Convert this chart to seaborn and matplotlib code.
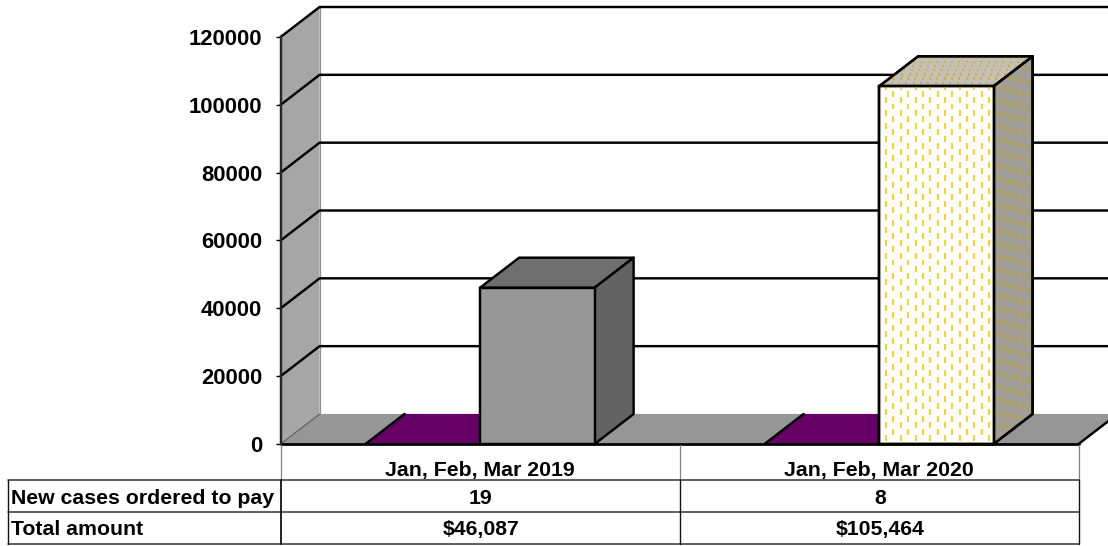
import numpy as np
import pandas as pd
import matplotlib
matplotlib.use("Agg")
import matplotlib.pyplot as plt
from matplotlib.collections import LineCollection
from matplotlib.lines import Line2D
from matplotlib.patches import Polygon
import seaborn as sns

periods = ["Jan, Feb, Mar 2019", "Jan, Feb, Mar 2020"]
new_cases = [19, 8]
total_amount = [46087, 105464]
table_labels = ["New cases ordered to pay", "Total amount"]
table_cases = ["19", "8"]
table_amounts = ["$46,087", "$105,464"]
y_ticks = [0, 20000, 40000, 60000, 80000, 100000, 120000]

W, H = 1108, 546
sns.set_style("white")
plt.rcParams["font.family"] = ["Liberation Sans", "DejaVu Sans"]
plt.rcParams["font.weight"] = "bold"
plt.rcParams["text.color"] = "black"
plt.rcParams["xtick.color"] = "black"
plt.rcParams["ytick.color"] = "black"
FS = 15.3
FS_TICK = 15.8
LW = 1.75

df = pd.DataFrame({
    "period": periods * 2,
    "series": ["New cases"] * 2 + ["Total amount"] * 2,
    "value": new_cases + total_amount,
})

fig = plt.figure(figsize=(W / 100, H / 100), dpi=100, facecolor="white")
ax = fig.add_axes([280.6 / W, (H - 444) / H, (1079 - 281) / W, (444 - 37) / H])
sns.barplot(data=df, x="period", y="value", hue="series", order=periods,
            width=0.574, gap=0, legend=False, ax=ax, saturation=1)
ax.set_xlim(-0.5, 1.5)
ax.set_ylim(0, y_ticks[-1])
ax.set_xlabel("")
ax.set_ylabel("")
PX = 2.0 / (1079 - 281)
PY = y_ticks[-1] / (444 - 37)
DX, DY = 39 * PX, 30 * PY
XL, XR = -0.5, 1.5

for s in ["top", "right", "bottom"]:
    ax.spines[s].set_visible(False)
ax.spines["left"].set_linewidth(LW)
ax.spines["left"].set_zorder(20)
ax.set_yticks(y_ticks)
ax.set_yticklabels([str(v) for v in y_ticks], fontsize=FS_TICK, fontweight="bold", color="black")
ax.tick_params(axis="y", left=True, length=3.6, width=1, pad=9.7, color="black")
ax.tick_params(axis="x", bottom=False, length=0, pad=12.3, labelsize=FS, labelcolor="black")
for t in ax.get_xticklabels():
    t.set_fontweight("bold")


def poly(pts, fc, z, ec="none", lw=0):
    p = Polygon(pts, closed=True, facecolor=fc, edgecolor=ec, linewidth=lw,
                zorder=z, clip_on=False, joinstyle="round")
    ax.add_patch(p)
    return p


def line(xs, ys, z, lw=LW, c="black"):
    ax.plot(xs, ys, color=c, lw=lw, zorder=z, clip_on=False, solid_capstyle="round")


# walls and floor
poly([(XL, 0), (XL + DX, DY), (XL + DX, y_ticks[-1] + DY), (XL, y_ticks[-1])], "#a6a6a6", 1)
poly([(XL, 0), (XR, 0), (XR + DX, DY), (XL + DX, DY)], "#969696", 1.2)
line([XL, XL + DX], [0, DY], 1.3, lw=0.7, c="#555555")
line([XL + DX, XR + DX], [DY, DY], 1.1, lw=0.9, c="#c0c0c0")
line([XL + DX, XL + DX], [DY, y_ticks[-1] + DY], 1.1, lw=0.9, c="#909090")
for v in y_ticks[1:]:
    line([XL, XL + DX, XR + 0.2], [v, v + DY, v + DY], 1.5)
line([XR, XR + DX], [0, DY], 1.5)
line([XL, XR], [0, 0], 8, lw=LW + 0.2)


def dashes(clip, cols, z, color, lw):
    lc = LineCollection(cols, colors=color, linewidths=lw, zorder=z, clip_on=True)
    ax.add_collection(lc, autolim=False)
    lc.set_clip_path(clip)


def bar3d(rect, front, top, side, z, pattern=False):
    x0, w, h = rect.get_x(), rect.get_width(), rect.get_height()
    rect.set(facecolor=front, edgecolor="black", linewidth=LW, zorder=z + 0.3, clip_on=False)
    pt = poly([(x0, h), (x0 + w, h), (x0 + w + DX, h + DY), (x0 + DX, h + DY)],
              top, z, "black", LW)
    ps = poly([(x0 + w, 0), (x0 + w + DX, DY), (x0 + w + DX, h + DY), (x0 + w, h)],
              side, z, "black", LW)
    if not pattern:
        return
    # printed dash texture on the three faces
    f, sd, tp = [], [], []
    for i, cx in enumerate(np.arange(x0 + 7 * PX, x0 + w, 7.35 * PX)):
        off = (i % 2) * 6.5 * PY
        for yy in np.arange(-off, h, 13 * PY):
            f.append([(cx, yy + 3 * PY), (cx, yy + 9 * PY)])
    for i, k in enumerate(np.arange(0.09, 1.0, 0.165)):
        off = (i % 2) * 6.5 * PY
        cx = x0 + w + k * DX
        for yy in np.arange(-off, h + DY, 13 * PY):
            yb = yy + k * DY
            sd.append([(cx, yb), (cx, yb + 5.5 * PY)])
    for j, k in enumerate(np.arange(0.08, 1.0, 0.14)):
        for i, u in enumerate(np.arange(2 * PX, w, 7.35 * PX)):
            xx = x0 + u + k * DX + (j % 2) * 3.6 * PX
            yy = h + k * DY
            tp.append([(xx, yy), (xx, yy + 2.4 * PY)])
    dashes(rect, f, z + 0.4, "#ffcc00", 1.25)
    dashes(ps, sd, z + 0.2, "#c4a21c", 1.1)
    dashes(pt, tp, z + 0.2, "#d2ad2a", 1.2)
    # outlines above the texture
    line([x0, x0 + w, x0 + w, x0, x0], [0, 0, h, h, 0], z + 0.5)
    line([x0, x0 + DX, x0 + w + DX, x0 + w], [h, h + DY, h + DY, h], z + 0.5)
    line([x0 + w + DX, x0 + w + DX, x0 + w], [h + DY, DY, 0], z + 0.5)


purple, amount = ax.containers[0], ax.containers[1]
# thin bars seen only by their top face, lying on the floor
for r in purple:
    x0, w, h = r.get_x(), r.get_width(), r.get_height()
    r.set(facecolor="#660066", edgecolor="black", linewidth=0.6, zorder=3, clip_on=False)
    poly([(x0, h), (x0 + w, h), (x0 + w + DX, h + DY), (x0 + DX, h + DY)], "#660066", 3)
    line([x0, x0 + DX], [h, h + DY], 3.2)

bar3d(amount[0], "#969696", "#6f6f6f", "#636363", 4)
bar3d(amount[1], "#ffffff", "#c2c0b8", "#a09e98", 5, pattern=True)


# data table under the plot
def fx(x):
    return x / W


def fy(y):
    return 1 - y / H


def rule(x0, y0, x1, y1, c="#222222", lw=1.1):
    fig.add_artist(Line2D([fx(x0), fx(x1)], [fy(y0), fy(y1)], color=c, lw=lw,
                          transform=fig.transFigure))


for x in (281, 680, 1079):
    rule(x, 445, x, 480, c="#808080", lw=0.9)
for yy in (480, 512, 544):
    rule(8, yy, 1079, yy, c="#333333")
for x in (8, 281, 680, 1079):
    rule(x, 480, x, 544, c="#111111", lw=1.3 if x == 281 else 1.0)

for yy, label, vals in zip((498.2, 529.2), table_labels, (table_cases, table_amounts)):
    fig.text(fx(11), fy(yy), label, ha="left", va="center", fontsize=FS, fontweight="bold", color="black")
    for xc, v in zip((481, 880), vals):
        fig.text(fx(xc), fy(yy), v, ha="center", va="center", fontsize=FS, fontweight="bold", color="black")

fig.savefig("out.png", dpi=100, facecolor="white")
